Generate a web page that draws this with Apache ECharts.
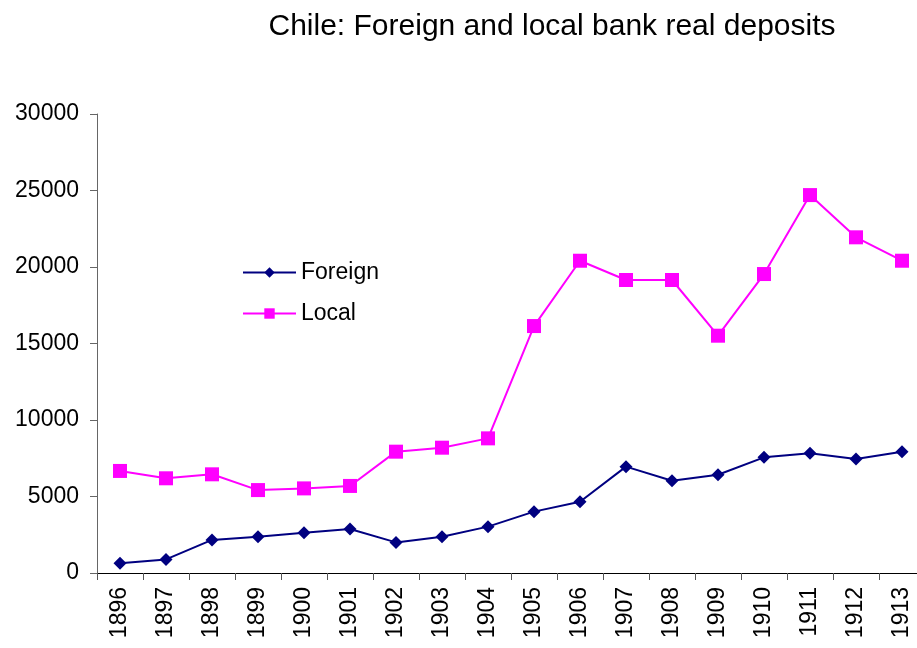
<!DOCTYPE html>
<html>
<head>
<meta charset="utf-8">
<script src="https://cdn.jsdelivr.net/npm/echarts@6/dist/echarts.min.js"></script>
<style>
html,body{margin:0;padding:0;background:#fff;overflow:hidden;}
#chart{width:925px;height:648px;}
</style>
</head>
<body>
<div id="chart"></div>
<script>
var years = ['1896','1897','1898','1899','1900','1901','1902','1903','1904','1905','1906','1907','1908','1909','1910','1911','1912','1913']
var foreign = [630,890,2160,2370,2630,2880,2000,2370,3030,4010,4660,6950,6030,6420,7560,7820,7450,7930]
var local = [6670,6190,6450,5420,5530,5690,7930,8190,8800,16140,20410,19150,19150,15510,19540,24700,21940,20410]

// plot is cut off a little on the right in the original, so the canvas is wider than the window
var chart = echarts.init(document.getElementById('chart'))
var font = 'Liberation Sans, Arial, sans-serif'
var option = {
	backgroundColor:'#fff',
	animation:false,
	title:{
		text:'Chile: Foreign and local bank real deposits',
		left:547,
		textAlign:'center',
		top:7,
		textStyle:{fontFamily:font,fontSize:30,fontWeight:'normal',color:'#000'}
	},
	legend:{
		orient:'vertical',
		left:237,
		top:256,
		itemWidth:53,
		itemHeight:13,
		itemGap:18,
		textStyle:{fontFamily:font,fontSize:23,color:'#000'},
		data:['Foreign','Local']
	},
	grid:{left:97,right:0,top:114,bottom:75,containLabel:false},
	xAxis:{
		type:'category',
		data:years,
		boundaryGap:true,
		axisLine:{lineStyle:{color:'#000',width:1}},
		axisTick:{show:true,length:7,lineStyle:{color:'#555'}},
		axisLabel:{rotate:90,fontFamily:font,fontSize:23,color:'#000',margin:14,interval:0}
	},
	yAxis:{
		type:'value',
		min:0,
		max:30000,
		interval:5000,
		splitLine:{show:false},
		axisLine:{show:true,lineStyle:{color:'#666'}},
		axisTick:{show:true,length:7,lineStyle:{color:'#666'}},
		axisLabel:{fontFamily:font,fontSize:23,color:'#000',margin:18,formatter:function(v){return String(v)}}
	},
	series:[
		{
			name:'Foreign',
			type:'line',
			data:foreign,
			symbol:'diamond',
			symbolSize:13,
			itemStyle:{color:'#000080'},
			lineStyle:{color:'#000080',width:2}
		},
		{
			name:'Local',
			type:'line',
			data:local,
			symbol:'rect',
			symbolSize:14,
			itemStyle:{color:'#ff00ff'},
			lineStyle:{color:'#ff00ff',width:2}
		}
	]
}
chart.setOption(option)
</script>
</body>
</html>
